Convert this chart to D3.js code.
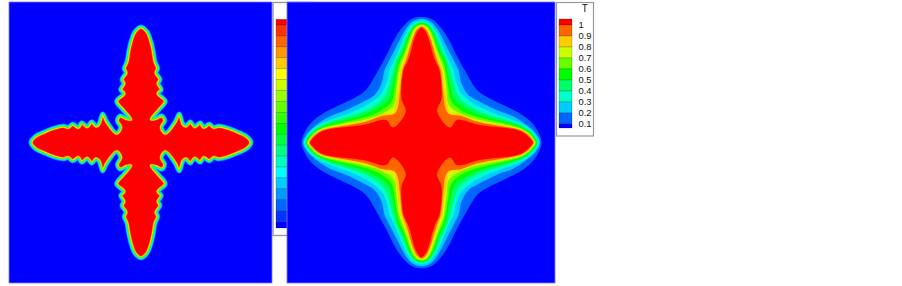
<!DOCTYPE html>
<html>
<head>
<meta charset="utf-8">
<script src="https://cdn.jsdelivr.net/npm/d3@7"></script>
<style>
  html, body { margin: 0; padding: 0; background: #fff; }
  svg { display: block; }
  text { font-family: "Liberation Sans", Arial, sans-serif; font-size: 9.4px; fill: #111; }
</style>
</head>
<body>
<svg width="902" height="286"></svg>
<script>
// quarter outlines [x, y] from the top tip to the left tip, mirrored to the other three
var dendrite = [[0,115.3],[6,110.7],[10,100.7],[12.3,90.7],[14,80.7],[16.7,74],[15,69.7],[19,63],[17,59],[20.3,53],[17,49],[24.3,41.3],[17.7,32.5],[10.3,23.2],[16,24.5],[21,26.5],[23.7,21.8],[20.3,15.2],[24.3,9.2],[34.3,20.8],[38.3,28.5],[42,18.3],[45,16.3],[49.3,20.7],[53.7,15.7],[59.3,19.7],[62.7,15],[68.3,18.3],[72.7,15],[77.7,16.3],[87.7,14],[97.7,10],[106,5.7],[110,0]];

var t01 = [[0,125.8],[10,123.5],[18,116.5],[26.7,104],[35,87.3],[44,71],[56,52],[70,43],[85,36],[100,28],[111,19],[117,10],[120,0]];
var t02 = [[0,123.8],[9,121],[16,113],[24,98],[33,80.5],[37,72.5],[40,59],[47,47.5],[58,41],[75,32.5],[91,26.5],[103,19],[112,11.5],[117,5],[118.5,0]];
var t03 = [[0,121.5],[8,119],[14,112],[21,97],[28,80.5],[32,72.5],[34.4,61],[40,49],[52,39],[68,31],[90,23],[101,18.5],[109,13],[115,6],[117.5,0]];
var t04 = [[0,120.5],[7,118],[13,110],[20,94],[26,80.5],[28.4,72.5],[32,59],[37,46],[48,36],[63,29],[90,21],[101,16.5],[108,12],[114,5],[116,0]];
var t05 = [[0,119.5],[6.5,117],[12,109],[18,93],[24,80.5],[25.7,72.5],[29,56],[33.4,42.5],[45,34],[62,26.5],[90,19],[100,15.3],[107,11],[113,5],[115.3,0]];
var t06 = [[0,118],[6,116],[11,108],[16.5,92],[21.7,80.5],[24,72.5],[26.7,56],[30,41],[41.7,31],[58,25],[90,17.5],[100,14.3],[107,10],[112,4.5],[114.5,0]];
var t07 = [[0,117.5],[5.5,115],[10,107],[15,92],[19.7,80.5],[22.4,72.5],[25,54],[27.4,37.5],[36.7,30],[52,24],[91,16],[100,13.5],[106,9.8],[111,4.8],[113.7,0]];
var t08 = [[0,116.8],[5,114],[9,106],[14,92],[17.7,80.5],[20.7,72.5],[22.7,56],[25.7,41],[27.7,30],[38.4,28.5],[53.4,22.5],[91.7,15],[100,12.8],[106,9],[110,5],[113,0]];
var t09 = [[0,116],[4.5,113],[8.5,105],[13,90],[16,80.5],[19,72.5],[21.7,49],[23.4,36],[26.7,29],[40,26.5],[55,21],[91.7,14.3],[100,12],[106,8.2],[110,4.2],[112.3,0]];
var t10 = [[0,114.8],[4,111],[7.5,103],[11.5,88],[14.3,80.5],[18,72.5],[20,44],[15.7,31],[28.4,15],[35.7,22.5],[58.4,17.5],[91.7,13.5],[100,11],[105,7.8],[109,3.8],[111.5,0]];

var contours = [t01, t02, t03, t04, t05, t06, t07, t08, t09, t10];
var contourColors = ["#0066ff","#00ccff","#00ffcc","#00ff66","#00ff00","#66ff00","#ccff00","#ffcc00","#ff6600","#ff0000"];

// rim of the left field, outside then inside of the outline
var rimOut = [[2.6,"#0066ff"],[2,"#00ccff"],[1.4,"#00ffcc"],[0.8,"#00ff66"]];
var rimIn = [[1.9,"#ff6600"],[1.3,"#ffee00"],[0.6,"#33ff00"]];

var legendLevels = [1,0.9,0.8,0.7,0.6,0.5,0.4,0.3,0.2,0.1];
var legendColors = ["#ff0000","#ff6600","#ffcc00","#ccff00","#66ff00","#00ff00","#00ff66","#00ffcc","#00ccff","#0066ff","#0000ff"];

var oldLevels = [1,0.95,0.9,0.85,0.8,0.75,0.7,0.65,0.6,0.55,0.5,0.45,0.4,0.35,0.3,0.25,0.2,0.15,0.1];
var oldColors = ["#ff0000","#ff3300","#ff6600","#ff9900","#ffcc00","#ffff00","#ccff00","#99ff00","#66ff00","#33ff00","#00ff00","#00ff40","#00ff80","#00ffbf","#00ffff","#00ccff","#0099ff","#0066ff","#0033ff","#0000ff"];

var svg = d3.select("svg");

var leftX = d3.scaleLinear().domain([-132,131]).range([9,272]);
var leftY = d3.scaleLinear().domain([-140.5,140.5]).range([2,283]);
var rightX = d3.scaleLinear().domain([-134.5,133.5]).range([287,555]);
var rightY = d3.scaleLinear().domain([-140.5,140.5]).range([2,283]);

function mirror(q) {
  var tl = q.map(function(p) { return [-p[0], -p[1]]; });
  var bl = q.slice(0, -1).reverse().map(function(p) { return [-p[0], p[1]]; });
  var br = q.slice(1).map(function(p) { return [p[0], p[1]]; });
  var tr = q.slice(1, -1).reverse().map(function(p) { return [p[0], -p[1]]; });
  return tl.concat(bl, br, tr);
}

function outline(x, y) {
  return d3.line()
    .x(function(d) { return x(d[0]); })
    .y(function(d) { return y(d[1]); })
    .curve(d3.curveCatmullRomClosed.alpha(0.5));
}

function panel(x, y) {
  svg.append("rect")
    .attr("x", x.range()[0]).attr("y", y.range()[0])
    .attr("width", x.range()[1] - x.range()[0])
    .attr("height", y.range()[1] - y.range()[0])
    .attr("fill", "#0000ff")
    .attr("stroke", "#7a7aff")
    .attr("stroke-width", 0.8);
}

// old legend sits under the right panel, so it goes first
function oldLegend() {
  var scale = d3.scaleLinear().domain([1,0.1]).range([25,221.6]);
  var g = svg.append("g");
  g.append("rect")
    .attr("x", 273).attr("y", 2.5).attr("width", 40).attr("height", 233)
    .attr("fill", "#fff").attr("stroke", "#999").attr("stroke-width", 1.4);
  var edges = [19.3].concat(oldLevels.map(scale), [228]);
  g.selectAll(".band").data(oldColors).enter().append("rect")
    .attr("class", "band")
    .attr("x", 276).attr("width", 20)
    .attr("y", function(d, i) { return edges[i]; })
    .attr("height", function(d, i) { return edges[i + 1] - edges[i]; })
    .attr("fill", function(d) { return d; })
    .attr("stroke", "rgba(0,0,0,0.3)")
    .attr("stroke-width", 0.6);
}

function leftField() {
  var x = leftX, y = leftY;
  panel(x, y);
  var path = outline(x, y)(mirror(dendrite));
  var g = svg.append("g").style("filter", "blur(0.45px)");
  g.selectAll(".rimOut").data(rimOut).enter().append("path")
    .attr("class", "rimOut")
    .attr("d", path)
    .attr("fill", "none")
    .attr("stroke", function(d) { return d[1]; })
    .attr("stroke-width", function(d) { return d[0] * 2; })
    .attr("stroke-linejoin", "round");
  g.append("path").attr("d", path).attr("fill", "#00ff00");
  svg.append("clipPath").attr("id", "inside").append("path").attr("d", path);
  var inner = g.append("g").attr("clip-path", "url(#inside)");
  inner.append("path").attr("d", path).attr("fill", "#ff0000");
  inner.selectAll(".rimIn").data(rimIn).enter().append("path")
    .attr("class", "rimIn")
    .attr("d", path)
    .attr("fill", "none")
    .attr("stroke", function(d) { return d[1]; })
    .attr("stroke-width", function(d) { return d[0] * 2; })
    .attr("stroke-linejoin", "round");
}

function rightField() {
  var line = outline(rightX, rightY);
  panel(rightX, rightY);
  svg.append("g").selectAll("path").data(contours).enter().append("path")
    .attr("d", function(d) { return line(mirror(d)); })
    .attr("fill", function(d, i) { return contourColors[i]; });
}

function legend() {
  var scale = d3.scaleLinear().domain([1,0.1]).range([25,124]);
  var g = svg.append("g");
  g.append("rect")
    .attr("x", 556.5).attr("y", 2.5).attr("width", 37).attr("height", 133.5)
    .attr("fill", "#fff").attr("stroke", "#999").attr("stroke-width", 1.2);
  var edges = [19].concat(legendLevels.map(scale), [128]);
  g.selectAll(".band").data(legendColors).enter().append("rect")
    .attr("class", "band")
    .attr("x", 559).attr("width", 13)
    .attr("y", function(d, i) { return edges[i]; })
    .attr("height", function(d, i) { return edges[i + 1] - edges[i]; })
    .attr("fill", function(d) { return d; })
    .attr("stroke", "rgba(0,0,0,0.3)")
    .attr("stroke-width", 0.6);
  g.selectAll(".lab").data(legendLevels).enter().append("text")
    .attr("class", "lab")
    .attr("x", 578.5)
    .attr("y", function(d) { return scale(d) + 3.3; })
    .text(function(d) { return d; });
  g.append("text").attr("x", 581.7).attr("y", 12).style("font-size", "10px").text("T");
}

leftField();
oldLegend();
rightField();
legend();
</script>
</body>
</html>
